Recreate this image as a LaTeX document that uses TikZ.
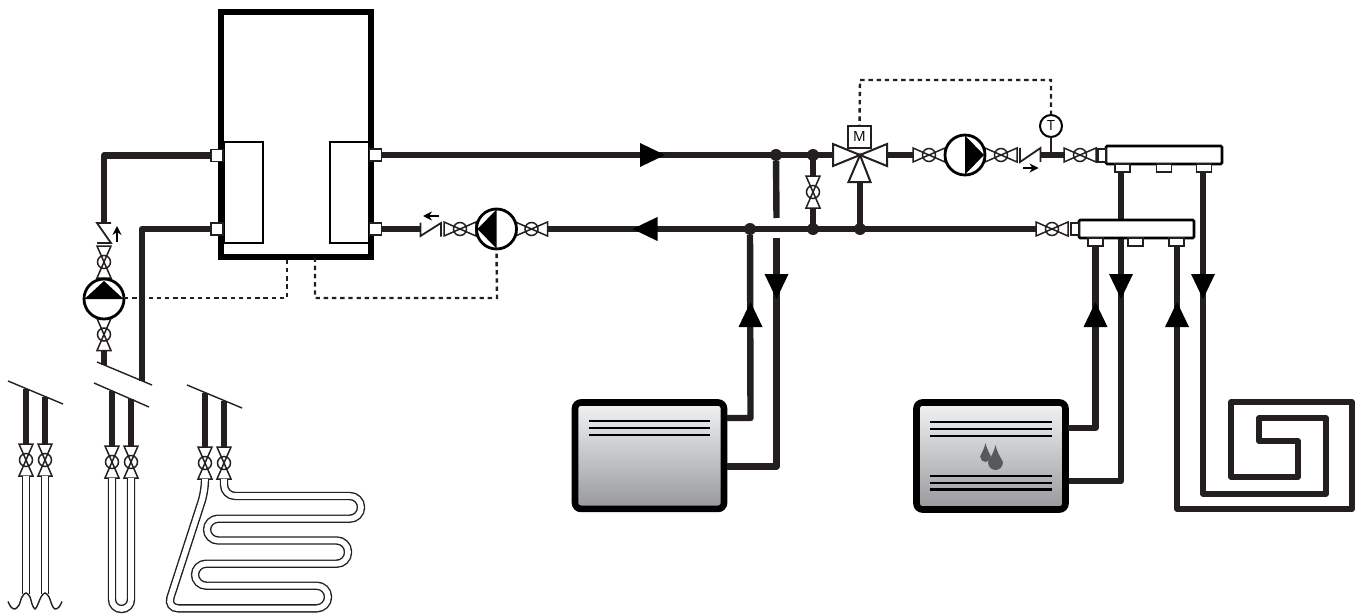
\documentclass[tikz,border=0pt]{standalone}
\usepackage{fontspec}
\usetikzlibrary{arrows.meta}
\setmainfont{Open Sans}
\definecolor{ink}{HTML}{231F20}
\definecolor{dropc}{HTML}{58595B}
\definecolor{radtop}{HTML}{F2F3F4}
\definecolor{radbot}{HTML}{97989B}
\tikzset{
  x=0.5pt,y=-0.5pt,
  pipe/.style={draw=ink,line width=3.2pt,line join=round,line cap=butt},
  sigline/.style={draw=ink,line width=1.2pt,dash pattern=on 2.2pt off 1.9pt},
  tube/.style={draw=ink,double=white,double distance=2.8pt,line width=.7pt},
  portbox/.style={draw=ink,fill=white,line width=.9pt,inner sep=0pt,outer sep=0pt,minimum width=6pt,minimum height=6pt},
  mfold/.style={draw=black,fill=white,line width=1.3pt,inner sep=0pt,outer sep=0pt,rounded corners=.6pt},
  tapbox/.style={draw=ink,fill=white,line width=.8pt,inner sep=0pt,outer sep=0pt,minimum width=7.5pt,minimum height=4pt},
  circ/.style={circle,draw=black,fill=white,line width=1.4pt,inner sep=0pt,outer sep=0pt,minimum size=20pt},
  radbox/.style={draw=black,line width=3.3pt,rounded corners=3pt,inner sep=0pt,outer sep=0pt,top color=radtop,bottom color=radbot},
  hxbox/.style={draw=black,fill=white,line width=1pt,inner sep=0pt,outer sep=0pt,minimum width=19.5pt,minimum height=50.5pt},
  junction/.style={circle,fill=ink,inner sep=0pt,outer sep=0pt,minimum size=6pt},
  slant/.style={draw=ink,line width=.7pt},
  fins/.style={draw=black,line width=1.15pt},
  tinyarrow/.style={-{Stealth[length=4.5pt,width=4.5pt]},black,line width=1pt},
  valve/.pic={
    \draw[ink,line width=.75pt,fill=white,line join=miter] (-16,-7)--(16,7)--(16,-7)--(-16,7)--cycle;
    \draw[ink,line width=.75pt] (0,0) circle (6.5);
    \coordinate (-a) at (-16,0);
    \coordinate (-b) at (16,0);
  },
  flowtip/.pic={\fill[black] (-12.5,-12)--(12.5,0)--(-12.5,12)--cycle;},
  pumphead/.pic={\fill[black] (0,-19.5)--(19,0)--(0,19.5)--cycle;},
}
\newcommand{\waterdrop}[4]{%
  \fill[dropc] (#1,#2) .. controls ({#1+.3*#4},{#2+.4*(#3-#2)}) and ({#1+#4},{#3-1.3*#4}) .. ({#1+#4},{#3-#4})
   .. controls ({#1+#4},{#3-.45*#4}) and ({#1+.55*#4},#3) .. (#1,#3)
   .. controls ({#1-.55*#4},#3) and ({#1-#4},{#3-.45*#4}) .. ({#1-#4},{#3-#4})
   .. controls ({#1-#4},{#3-1.3*#4}) and ({#1-.3*#4},{#2+.4*(#3-#2)}) .. (#1,#2) -- cycle;}
\begin{document}
\begin{tikzpicture}
\useasboundingbox (0,0) rectangle (1360,615);
% ---------- buffer tank
\node[draw=black,fill=white,line width=2.7pt,inner sep=0pt,outer sep=0pt,minimum width=75pt,minimum height=122.5pt] (tank) at (296,134.5) {};
\node[hxbox] (hxl) at (243.5,192.5) {};
\node[hxbox] (hxr) at (349.5,192.5) {};
\node[portbox] (pla) at (217,155.5) {};
\node[portbox] (plb) at (217,229) {};
\node[portbox] (pra) at (375.5,155) {};
\node[portbox] (prb) at (375.5,229) {};
% ---------- left riser
\coordinate (ca) at (104,223);
\coordinate (cb) at (142,381);
\coordinate (cc) at (104,365);
\pic (v1) at (104,262) [rotate=90] {valve};
\pic (v2) at (104,334.5) [rotate=90] {valve};
\node[circ] (pumpL) at (104,299) {};
\fill[black] (84.5,299)--(104,281)--(123.5,299)--cycle;
\draw[ink,line width=.9pt] (111,223)--(97,223)--(111,243)--(97,243);
\draw[tinyarrow] (117,241.5)--(117,226);
\draw[pipe] (pla.west) -| (ca);
\draw[pipe] (plb.west) -| (cb);
\draw[pipe] (v2-a) -- (cc);
\coordinate (sl1) at (287,257.5);
\coordinate (sl2) at (287,298);
\draw[sigline] (pumpL.east |- sl2) -- (sl2) -- (sl1);
% ---------- return pump
\coordinate (ckA) at (420,229);
\coordinate (sr1) at (315,257.5);
\coordinate (sr2) at (315,298);
\coordinate (sr3) at (497,298);
\pic (v3) at (460,229) {valve};
\pic (v4) at (531.5,229) {valve};
\node[circ] (pumpR) at (496.5,229) {};
\pic at (496.5,229) [rotate=180] {pumphead};
\draw[ink,line width=.9pt] (420.5,222.5)--(420.5,236)--(441,223)--(441,236.5);
\draw[tinyarrow] (439,216)--(423,216);
\draw[pipe] (prb.east) -- (ckA);
\draw[sigline] (sr1) -- (sr2) -- (sr3) -- (pumpR.south);
% ---------- main lines
\coordinate (mix) at (860,155);
\coordinate (mixL) at (833,155);
\coordinate (mixR) at (887,155);
\coordinate (mixB) at (860,182);
\pic (v5) at (813,192) [rotate=90] {valve};
\pic (v6) at (929,155) {valve};
\pic (v7) at (1001,155) {valve};
\pic (v8) at (1052,229) {valve};
\pic (v9) at (1080,155) {valve};
\node[circ] (pumpS) at (965,155) {};
\pic at (965,155) {pumphead};
\draw[ink,line width=.9pt] (1020,148)--(1020,162)--(1040.5,148)--(1040.5,162);
\draw[tinyarrow] (1023,168)--(1038.5,168);
\coordinate (ja) at (776,155);
\coordinate (jb) at (813,155);
\coordinate (jc) at (813,229);
\coordinate (jd) at (860,229);
\coordinate (je) at (750,229);
\draw[pipe] (pra.east) -- (mixL);
\draw[pipe] (v4-b) -- (v8-a);
\draw[pipe] (mixR) -- (v6-a);
\draw[pipe] (jb) -- (v5-b);
\draw[pipe] (v5-a) -- (jc);
\draw[pipe] (mixB) -- (jd);
\pic at (652.5,155) {flowtip};
\pic at (645,229) [rotate=180] {flowtip};
\foreach \n/\p in {ja1/ja,jb1/jb,jc1/jc,jd1/jd,je1/je}{\node[junction] (\n) at (\p) {};}
% three-way valve
\draw[ink,line width=1pt,fill=white,line join=miter] (mix)--(833,144)--(833,166)--cycle;
\draw[ink,line width=1pt,fill=white,line join=miter] (mix)--(887,144)--(887,166)--cycle;
\draw[ink,line width=1pt,fill=white,line join=miter] (mix)--(848.5,182)--(870.5,182)--cycle;
\node[draw=ink,fill=white,line width=1pt,inner sep=0pt,outer sep=0pt,minimum width=11.3pt,minimum height=11pt,font=\fontsize{7}{8}\selectfont] (motor) at (859.5,137) {M};
% thermometer
\coordinate (tp) at (1051,155);
\node[circ,line width=1pt,minimum size=11pt,font=\fontsize{7}{8}\selectfont] (therm) at (1051,126) {T};
\draw[pipe] (1041,155) -- (v9-a);
\draw[ink,line width=1pt] (therm.south) -- (tp);
\coordinate (dk) at (1051,80);
\coordinate (dl) at (860,80);
\draw[sigline] (therm.north) -- (dk) -- (dl) -- (motor.north);
% ---------- manifolds
\node[mfold,minimum width=58pt,minimum height=9pt] (mfu) at (1164,155) {};
\node[portbox,minimum width=4pt,minimum height=6.5pt] (mfup) at (1102,155.5) {};
\node[tapbox] (ua) at (1122.5,168) {};
\node[tapbox] (ub) at (1164,168) {};
\node[tapbox] (uc) at (1204,168) {};
\coordinate (r2b) at (1068,481);
\coordinate (r2bc) at (1121,481);
\draw[pipe] (ua.south -| r2bc) -- (r2bc) -- (r2b);
\node[mfold,minimum width=57.5pt,minimum height=9pt] (mfl) at (1136.5,229) {};
\node[portbox,minimum width=4pt,minimum height=6pt] (mflp) at (1075,229) {};
\node[tapbox] (la) at (1095.5,242) {};
\node[tapbox] (lb) at (1135.5,242) {};
\node[tapbox] (lc) at (1176.5,242) {};
% ---------- radiator 1
\node[radbox,minimum width=74.5pt,minimum height=53.2pt] (rad1) at (649.5,455.7) {};
\foreach \yy in {421,428,435}{\draw[fins] (589,\yy)--(710,\yy);}
\coordinate (r1a) at (727,418);
\coordinate (r1ac) at (750.5,418);
\coordinate (r1b) at (727,466.5);
\coordinate (r1bc) at (776.5,466.5);
\coordinate (gapl) at (776.5,218);
\coordinate (gapu) at (776.5,238);
\draw[pipe] (r1a) -- (r1ac) -- (je1);
\draw[pipe] (r1b) -- (r1bc) -- (gapu);
\draw[pipe] (ja1) -- (gapl);
\pic at (750.5,314.5) [rotate=90] {flowtip};
\pic at (776.5,286.5) [rotate=-90] {flowtip};
% ---------- radiator 2
\node[radbox,minimum width=74.5pt,minimum height=53.5pt] (rad2) at (991,456) {};
\foreach \yy in {422,429,436,476,483,489.5}{\draw[fins] (930,\yy)--(1052,\yy);}
\waterdrop{985.5}{443}{462}{5.3}
\waterdrop{995.5}{445}{470}{7.4}
\coordinate (r2a) at (1068,428);
\coordinate (r2ac) at (1095.5,428);
\draw[pipe] (r2a) -- (r2ac) -- (la.south);
\pic at (1095.5,314.5) [rotate=90] {flowtip};
\pic at (1121,286.5) [rotate=-90] {flowtip};
% ---------- floor coil
\coordinate (fa) at (1177,509);
\coordinate (fb) at (1203,494);
\draw[pipe,line width=2.8pt] (lc.south -| fa) -- (fa) -- (1352,509) -- (1352,402) -- (1231,402) -- (1231,477) -- (1298,477) -- (1298,441) -- (1259,441) -- (1259,418) -- (1326,418) -- (1326,494) -- (fb) -- (uc.south -| fb);
\pic at (1177,314.5) [rotate=90] {flowtip};
\pic at (1203,286.5) [rotate=-90] {flowtip};
% ---------- ground loops: group 1
\draw[slant] (8,381)--(63,404);
\coordinate (g1a) at (26,388.5);
\coordinate (g1b) at (45,397);
\pic (g1va) at (26,460) [rotate=90] {valve};
\pic (g1vb) at (45,460) [rotate=90] {valve};
\draw[pipe,line width=3pt] (g1a) -- (g1va-b);
\draw[pipe,line width=3pt] (g1b) -- (g1vb-b);
\draw[tube] (g1va-a) -- (26,594);
\draw[tube] (g1vb-a) -- (45,594);
\draw[ink,line width=.7pt] plot[smooth,tension=.6] coordinates {(8,601.5)(11,607)(15,609)(19,605)(22,597)(26,593)(30,597)(32,604)(35,609)(38,604)(41,597)(45,593)(49,597)(52,605)(55,609)(59,607)(62,601.5)};
% group 2
\draw[slant] (97,362)--(152,385);
\draw[slant] (94,383)--(149,407);
\coordinate (g2a) at (112,390.5);
\coordinate (g2b) at (131,399);
\pic (g2va) at (112,462) [rotate=90] {valve};
\pic (g2vb) at (131,462) [rotate=90] {valve};
\draw[pipe,line width=3pt] (g2a) -- (g2va-b);
\draw[pipe,line width=3pt] (g2b) -- (g2vb-b);
\draw[tube,rounded corners=4.7pt] (g2va-a) -- (112,609) -- (131,609) -- (g2vb-a);
% group 3
\draw[slant] (187,385)--(242,408);
\coordinate (g3a) at (205,393);
\coordinate (g3b) at (224,401);
\pic (g3va) at (205,463) [rotate=90] {valve};
\pic (g3vb) at (224,463) [rotate=90] {valve};
\draw[pipe,line width=3pt] (g3a) -- (g3va-b);
\draw[pipe,line width=3pt] (g3b) -- (g3vb-b);
\draw[tube,rounded corners=5.6pt] (g3va-a) -- (205,491) -- (167,608.3) -- (328,608.3) -- (328,585.7) -- (195,585.7) -- (195,563.7) -- (348,563.7) -- (348,540.5) -- (207,540.5) -- (207,518.7) -- (361,518.7) -- (361,496) -- (224,496) -- (g3vb-a);
\end{tikzpicture}
\end{document}
